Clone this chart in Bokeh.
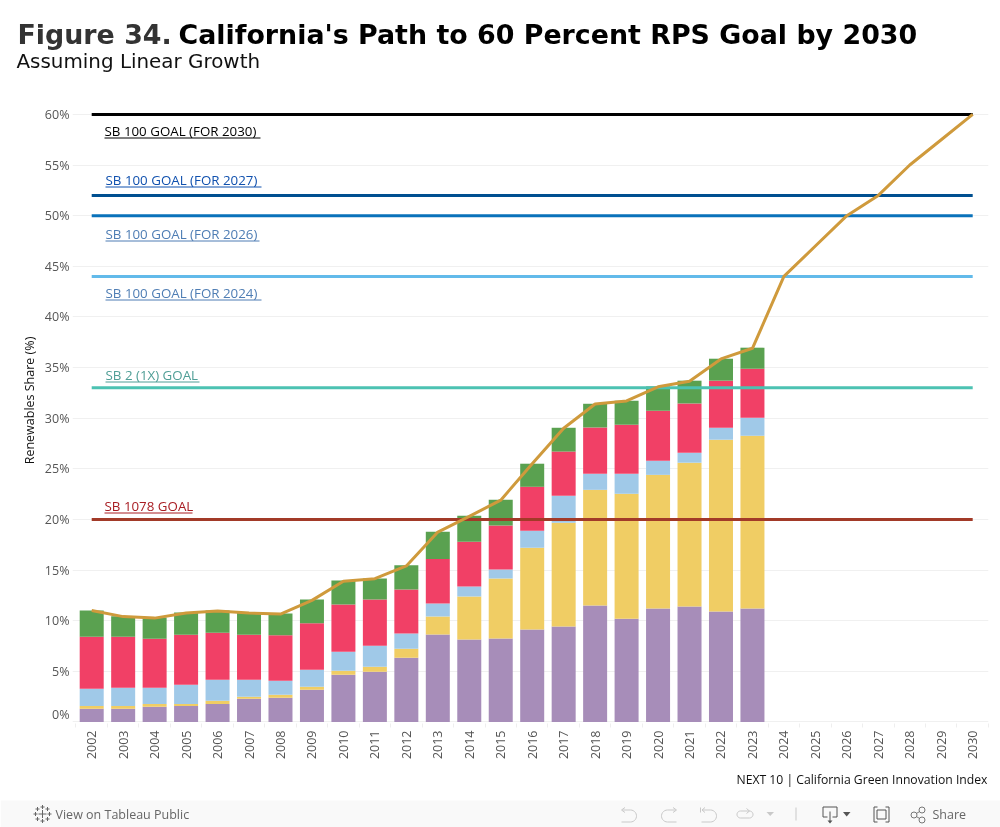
import math
import numpy as np
from bokeh.embed import file_html
from bokeh.resources import INLINE
from bokeh.plotting import figure
from bokeh.models import Range1d, FixedTicker
from bokeh.core.properties import value

years = list(range(2002, 2031))
bar_years = list(range(2002, 2024))
purple = [1.29,1.29,1.49,1.58,1.78,2.28,2.38,3.17,4.65,4.95,6.34,8.62,8.13,8.23,9.12,9.41,11.5,10.2,11.2,11.4,10.9,11.2]
yellow = [0.29,0.29,0.29,0.20,0.30,0.20,0.29,0.30,0.40,0.50,0.89,1.79,4.26,5.94,8.08,10.25,11.42,12.33,13.2,14.2,16.97,17.06]
blue = [1.69,1.79,1.59,1.88,2.08,1.68,1.39,1.68,1.88,2.08,1.49,1.28,0.99,0.89,1.67,2.67,1.58,1.97,1.39,0.98,1.18,1.78]
red = [5.15,5.05,4.85,4.94,4.64,4.44,4.49,4.59,4.67,4.57,4.36,4.41,4.42,4.34,4.35,4.37,4.58,4.85,4.94,4.87,4.65,4.84]
green = [2.58,2.01,2.08,2.20,2.20,2.15,2.15,2.34,2.37,2.06,2.38,2.67,2.56,2.54,2.28,2.35,2.34,2.37,2.40,2.25,2.17,2.08]
path = [11.0,10.4,10.25,10.75,10.95,10.75,10.65,12.0,13.9,14.15,15.4,18.75,20.3,21.9,25.5,29.0,31.4,31.7,33.1,33.65,35.85,36.9,44,47,50,52,55,57.5,60]
goal_values = [60, 52, 50, 44, 33, 20]
goal_colors = ["#000000", "#004f90", "#0a72ba", "#62baea", "#4cc2b2", "#a23a28"]
goal_names = ["SB 100 GOAL (FOR 2030)", "SB 100 GOAL (FOR 2027)", "SB 100 GOAL (FOR 2026)", "SB 100 GOAL (FOR 2024)", "SB 2 (1X) GOAL", "SB 1078 GOAL"]
goal_text_colors = ["#000000", "#0f50ae", "#4e7db4", "#4e7db4", "#4f9e96", "#a81c22"]
goal_text_left = [104, 105, 105, 105, 105, 104]
goal_text_base = [136, 185, 239, 298, 380, 511]
goal_under_right = [260, 261, 259, 261, 199, 192]
y_ticks = list(range(0, 65, 5))

UI = "Open Sans"
L, R, T, B = 72, 988, 100, 723
PXY = 10.125
PXX = 881 / 28
X0, Y0 = 91.2, 721.4

def X(px):
    return 2002 + (px - X0) / PXX

def Y(py):
    return (Y0 - py) / PXY

FIX = {"position": "fixed", "left": "0px", "top": "0px"}

p = figure(width=1000, height=800, output_backend="svg", toolbar_location=None,
           x_range=Range1d(X(L), X(R)), y_range=Range1d(Y(B), Y(T)),
           min_border_left=L, min_border_right=1000 - R, min_border_top=T, min_border_bottom=800 - B,
           styles=FIX)
p.outline_line_color = None
p.background_fill_color = "#ffffff"
p.border_fill_color = "#ffffff"

# bars
stack = [purple, yellow, blue, red, green]
colors = ["#a78db9", "#f0cd64", "#a0c9e8", "#f14066", "#5aa150"]
bottom = np.zeros(len(bar_years))
for vals, c in zip(stack, colors):
    top = bottom + np.array(vals)
    p.vbar(x=bar_years, bottom=bottom, top=top, width=24 / PXX, fill_color=c, line_color=None)
    bottom = top

# goals
for v, c in zip(goal_values, goal_colors):
    p.line([2002, 2030], [v, v], line_color=c, line_width=3)

# path
p.line(years, path, line_color="#cf9a3c", line_width=3, line_join="round")

# axes
p.xaxis.ticker = FixedTicker(ticks=years, minor_ticks=[y - 0.5 for y in years] + [2030.5])
p.xaxis.major_label_orientation = math.pi / 2
p.xaxis.major_label_text_font = UI
p.xaxis.major_label_text_font_size = "12.5px"
p.xaxis.major_label_text_color = "#555555"
p.xaxis.major_label_standoff = 3
p.xaxis.axis_line_color = None
p.xaxis.major_tick_line_color = None
p.xaxis.major_tick_in = 0
p.xaxis.major_tick_out = 0
p.xaxis.minor_tick_line_color = "#eeeeee"
p.xaxis.minor_tick_in = 0
p.xaxis.minor_tick_out = 4
p.xgrid.visible = False

p.yaxis.ticker = FixedTicker(ticks=y_ticks)
p.yaxis.major_label_overrides = {t: (f"{t}%" if t else "") for t in y_ticks}
p.yaxis.major_label_text_font = UI
p.yaxis.major_label_text_font_size = "12.5px"
p.yaxis.major_label_text_color = "#555555"
p.yaxis.major_label_standoff = 3
p.yaxis.axis_line_color = None
p.yaxis.major_tick_line_color = None
p.yaxis.major_tick_in = 0
p.yaxis.major_tick_out = 0
p.yaxis.minor_tick_line_color = None
p.ygrid.ticker = FixedTicker(ticks=y_ticks)
p.ygrid.grid_line_color = "#f0f0f0"
p.ygrid.grid_line_width = 1

# overlay in page pixels: titles, goal labels, footer, Tableau strip
t = figure(width=1000, height=827, output_backend="svg", toolbar_location=None,
           x_range=Range1d(0, 1000), y_range=Range1d(827, 0),
           x_axis_location=None, y_axis_location=None,
           min_border=0, min_border_left=0, min_border_right=0, min_border_top=0, min_border_bottom=0,
           styles=FIX)
t.grid.visible = False
t.outline_line_color = None
t.background_fill_alpha = 0
t.border_fill_alpha = 0

def txt(x, y, s, color, size, font=UI, style="normal", align="left", base="alphabetic", angle=0):
    # the alphabetic baseline lands about 0.4 em low in the svg output
    dy = 0.4 * float(size[:-2]) if base == "alphabetic" else 0
    t.text([x], [y - dy], text=[s], text_color=color, text_font=value(font), text_font_size=size,
           text_font_style=style, text_align=align, text_baseline=base, angle=angle)

txt(17, 45, "Figure 34.", "#333333", "26.85px", "DejaVu Sans", "bold")
txt(178, 45, "California's Path to 60 Percent RPS Goal by 2030", "#000000", "26.85px", "DejaVu Sans", "bold")
txt(16, 69, "Assuming Linear Growth", "#111111", "19.9px", "DejaVu Sans")
txt(987, 784, "NEXT 10 | California Green Innovation Index", "#111111", "12.2px", align="right")
txt(69, 719, "0%", "#555555", "12.5px", align="right")
txt(29, 400, "Renewables Share (%)", "#111111", "12.5px", align="center", base="middle", angle=math.pi / 2)

for name, c, lx, by, ur in zip(goal_names, goal_text_colors, goal_text_left, goal_text_base, goal_under_right):
    txt(lx, by, name, c, "13.33px")
    t.line([lx, ur], [by + 1.5, by + 1.5], line_color=c, line_width=1)

G = "#c9c9c9"
D = "#666666"
t.quad(left=[0], right=[1000], top=[800], bottom=[827], fill_color="#f9f9f9", line_color=None)
txt(55, 813.5, "View on Tableau Public", D, "12.5px", base="middle")
txt(932, 813.5, "Share", D, "12.5px", base="middle")

def seg(xs, ys, color=G, w=1):
    t.line(xs, ys, line_color=color, line_width=w)

def u_arc(cx, cy, r, a0, a1):
    a = np.radians(np.linspace(a0, a1, 14))
    return list(cx + r * np.cos(a)), list(cy + r * np.sin(a))

# undo
ax, ay = u_arc(630, 815.5, 6, -90, 90)
seg([622] + ax + [621], [809.5] + ay + [821.5])
seg([624.5, 621, 624.5], [807, 809.5, 812])
# redo
ax, ay = u_arc(667, 815.5, 6, 270, 90)
seg([675] + ax + [676], [809.5] + ay + [821.5])
seg([672.5, 676, 672.5], [807, 809.5, 812])
# revert
ax, ay = u_arc(710, 815.5, 6, -90, 90)
seg([702] + ax + [701], [809.5] + ay + [821.5])
seg([704.5, 701.5, 704.5], [807, 809.5, 812])
seg([700, 700], [807, 812])
# forward
ax, ay = u_arc(740, 814, 3.5, 90, 270)
bx, by = u_arc(749, 814, 3.5, -90, 90)
seg(ax + bx + [ax[0]], ay + by + [ay[0]])
seg([746, 749, 746], [808, 810.5, 813])
t.patch([766, 773.5, 769.7], [811.5, 811.5, 815.5], fill_color=G, line_color=None)
seg([795.5, 795.5], [807, 820])
# download
seg([827, 822.5, 822.5, 836.5, 836.5, 832], [816.5, 816.5, 806.5, 806.5, 816.5, 816.5], "#555555")
seg([829.5, 829.5], [811, 821], "#555555")
t.patch([827, 832, 829.5], [820, 820, 823], fill_color="#555555", line_color=None)
t.patch([842.5, 850, 846.2], [811.5, 811.5, 816], fill_color="#555555", line_color=None)
# fullscreen
seg([877, 873.5, 873.5, 877], [806.5, 806.5, 821.5, 821.5], "#555555")
seg([885, 888.5, 888.5, 885], [806.5, 806.5, 821.5, 821.5], "#555555")
seg([876.5, 885.5, 885.5, 876.5, 876.5], [809.5, 809.5, 818.5, 818.5, 809.5], "#555555")
# share
sx = [913.5, 921.5, 921.5]
sy = [814.5, 809.5, 819.5]
seg([sx[1], sx[0], sx[2]], [sy[1], sy[0], sy[2]], "#777777")
t.scatter(sx, sy, size=6, fill_color="#f9f9f9", line_color="#777777", line_width=1)

def cross(cx, cy, r, color=D, w=1):
    seg([cx - r, cx + r], [cy, cy], color, w)
    seg([cx, cx], [cy - r, cy + r], color, w)

cross(42, 813.5, 4)
cross(42, 806.5, 2)
cross(42, 820.5, 2)
cross(35, 813.5, 2)
cross(49, 813.5, 2)
cross(37, 808.5, 2)
cross(47, 808.5, 2)
cross(37, 818.5, 2)
cross(47, 818.5, 2)

open("out.html", "w").write(file_html([p, t], INLINE))
